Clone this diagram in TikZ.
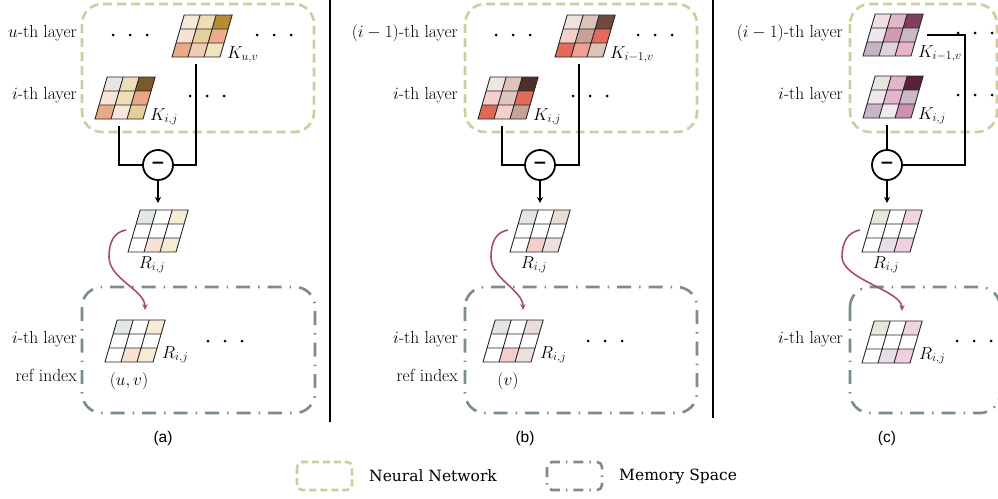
\documentclass[tikz,border=0pt]{standalone}
\usepackage{fontspec}
\newfontfamily\capfont{Liberation Sans}
\newfontfamily\legfont{DejaVu Serif}
\newfontfamily\symfont{DejaVu Sans}
\usetikzlibrary{arrows.meta,calc}
\definecolor{nncol}{HTML}{D2CB9E}
\definecolor{memcol}{HTML}{7B8C8A}
\definecolor{curvcol}{HTML}{A64D72}
\tikzset{
  nnbox/.style={draw=nncol, line width=2.6pt, dash pattern=on 9pt off 5pt, rounded corners=20pt},
  membox/.style={draw=memcol, line width=2.6pt, dash pattern=on 14pt off 8pt on 1.5pt off 8pt, rounded corners=20pt},
  gridline/.style={draw=black!85, line width=0.9pt},
  conn/.style={line width=1.8pt, draw=black},
  tipb/.style={-{Stealth[length=6pt,width=6pt]}},
  curv/.style={line width=1.6pt, draw=curvcol, -{Stealth[length=6pt,width=5.5pt]}},
  minus/.style={circle, draw=black, line width=1.8pt, minimum size=30pt, inner sep=0pt, fill=white, font=\symfont\bfseries\fontsize{17}{17}\selectfont},
  lay/.style={font=\fontsize{17.5}{20}\selectfont, inner sep=0pt, anchor=mid east},
  mlab/.style={font=\fontsize{17.5}{20}\selectfont, inner sep=0pt},
  capt/.style={font=\capfont\fontsize{15.5}{18}\selectfont, inner sep=0pt},
  legtext/.style={font=\legfont\fontsize{15.5}{18}\selectfont, inner sep=0pt, anchor=west},
}
% #1 name, #2 bottom-left corner, #3 nine colours (HTML), row by row from the top
\newcommand{\kmat}[3]{%
  \begin{scope}[shift={#2}, xslant=0.29]
    \foreach \c [count=\i from 0] in {#3} {
      \pgfmathtruncatemacro\cc{mod(\i,3)}
      \pgfmathtruncatemacro\rr{floor(\i/3)}
      \edef\tmpdef{\noexpand\definecolor{tmpc}{HTML}{\c}}\tmpdef
      \fill[tmpc] (\cc*16, -42+\rr*14) rectangle ++(16,14);
    }
    \draw[gridline] (0,0) rectangle (48,-42);
    \draw[gridline] (16,0) -- (16,-42) (32,0) -- (32,-42) (0,-14) -- (48,-14) (0,-28) -- (48,-28);
  \end{scope}
  \begin{scope}[shift={#2}]
    \coordinate (#1-s) at (24,7);
    \coordinate (#1-r) at (64,-21);
    \coordinate (#1-l) at (55,1);
    \coordinate (#1-S) at (-2,-22);
    \coordinate (#1-E) at (40,-52);
    \coordinate (#1-b) at (24,16);
    \coordinate (#1-t) at (24,-49);
    \coordinate (#1-w) at (57,-4);
  \end{scope}}
\newcommand{\threedots}[2]{\foreach \k in {0,1,2} \fill (#1+\k*17,#2) circle (1.5);}
\begin{document}
\begin{tikzpicture}[x=1pt,y=-1pt]
\useasboundingbox (0,0) rectangle (998,498);
\clip (0,0) rectangle (998,498);

% separators
\draw[line width=1.8pt] (330,0) -- (330,422);
\draw[line width=1.8pt] (713,0) -- (713,418);

% ================= panel (a)
\draw[nnbox] (82,4) rectangle (314,132);
\draw[membox] (82,287) rectangle (315,413);
\kmat{Kuva}{(172,57)}{F5EBD8,EBDDB5,B88A35,F8E2D5,E8D09A,EDAB8A,EAAA88,F1CBB3,EFE3C0}
\kmat{Kija}{(95,119)}{E8E6E4,EEDFB8,7A5A2A,F8E3D8,EEDDB5,E8A587,E9A888,F8E5DB,E4CF9A}
\kmat{Rta}{(128,252)}{E2E8E3,FFFFFF,F5ECD6,FFFFFF,FFFFFF,FFFFFF,FFFFFF,F7E1D5,F6ECD4}
\kmat{Rba}{(105,362)}{E2E8E3,FFFFFF,F5ECD6,FFFFFF,FFFFFF,FFFFFF,FFFFFF,F7E1D5,F6ECD4}
\node[minus] (ma) at (158,165) {−};
\draw[conn] (Kija-s) |- (ma);
\draw[conn] (Kuva-s) |- (ma);
\draw[conn,tipb] (ma) -- (ma |- Rta-t);
\draw[curv] (Rta-S) .. controls +(-12,2) and +(0,-15) .. ($(Rta-S)+(-17,27)$) .. controls +(0,22) and +(0,-20) .. (Rba-E);
\node[lay] (la1) at (77,35) {$u$-th layer};
\node[lay] (la2) at (77,97) {$i$-th layer};
\node[lay] (la3) at (77,341) {$i$-th layer};
\node[lay] (la4) at (77,379) {ref index};
\node[mlab, anchor=base west] (tKuva) at (Kuva-l) {$K_{u,v}$};
\node[mlab, anchor=base west] (tKija) at (Kija-l) {$K_{i,j}$};
\node[mlab, anchor=base] (tRta) at (Rta-b) {$R_{i,j}$};
\node[mlab, anchor=base west] (tRba) at (Rba-w) {$R_{i,j}$};
\node[mlab] (ida) at (129,381) {$(u,v)$};
\threedots{113}{35}
\threedots{257}{35}
\threedots{190}{96}
\threedots{208}{341}
\node[capt] (ca) at (163,438) {(a)};

% ================= panel (b)
\draw[nnbox] (465,4) rectangle (697,132);
\draw[membox] (465,287) rectangle (697,413);
\kmat{Kpvb}{(555,57)}{EEE2DE,DDC3BA,704A40,F5CFCB,C8A195,E26B5B,E26B5B,EEA095,DBC3BA}
\kmat{Kijb}{(478,119)}{EEE6E4,DCC3BC,4E3028,F5CFCB,DEC7BF,E16B5B,E06858,F5D0CB,C6A397}
\kmat{Rtb}{(510,252)}{E6E3E4,FFFFFF,EBDCD8,FFFFFF,FFFFFF,FFFFFF,FFFFFF,F3CFCB,EDE0DC}
\kmat{Rbb}{(483,362)}{E6E3E4,FFFFFF,EBDCD8,FFFFFF,FFFFFF,FFFFFF,FFFFFF,F3CFCB,EDE0DC}
\node[minus] (mb) at (540,165) {−};
\draw[conn] (Kijb-s) |- (mb);
\draw[conn] (Kpvb-s) |- (mb);
\draw[conn,tipb] (mb) -- (mb |- Rtb-t);
\draw[curv] (Rtb-S) .. controls +(-12,2) and +(0,-15) .. ($(Rtb-S)+(-17,27)$) .. controls +(0,22) and +(0,-20) .. (Rbb-E);
\node[lay] (lb1) at (458,35) {$(i-1)$-th layer};
\node[lay] (lb2) at (458,97) {$i$-th layer};
\node[lay] (lb3) at (458,341) {$i$-th layer};
\node[lay] (lb4) at (458,379) {ref index};
\node[mlab, anchor=base west] (tKpvb) at (Kpvb-l) {$K_{i-1,v}$};
\node[mlab, anchor=base west] (tKijb) at (Kijb-l) {$K_{i,j}$};
\node[mlab, anchor=base] (tRtb) at (Rtb-b) {$R_{i,j}$};
\node[mlab, anchor=base west] (tRbb) at (Rbb-w) {$R_{i,j}$};
\node[mlab] (idb) at (508,381) {$(v)$};
\threedots{496}{35}
\threedots{638}{35}
\threedots{573}{96}
\threedots{588}{341}
\node[capt] (cb) at (525,438) {(b)};

% ================= panel (c)
\draw[nnbox] (850,4) rectangle (997,132);
\draw[membox] (850,287) rectangle (1000,413);
\kmat{Kpvc}{(863,56)}{F1DFE6,E0B8C8,823F5C,EEE6EE,D39AB3,C8B8C8,C6B3C6,DDD3DD,E7B3C9}
\kmat{Kijc}{(863,118)}{E8E5DF,E3B5C8,5C2038,EEE6EE,E4B5C8,C8B8C8,C8B6C8,EEEAF0,D18FAF}
\kmat{Rtc}{(862,252)}{E6E8E0,FFFFFF,F0D5E0,FFFFFF,FFFFFF,FFFFFF,FFFFFF,E8DEE8,F0D0E0}
\kmat{Rbc}{(862,363)}{E6E8E0,FFFFFF,F0D5E0,FFFFFF,FFFFFF,FFFFFF,FFFFFF,E8DEE8,F0D0E0}
\node[minus] (mc) at (887,165) {−};
\coordinate (cturn) at (965,165);
\draw[conn] (Kijc-s) -- (mc);
\draw[conn] (Kpvc-r) -| (cturn) -- (mc);
\draw[conn,tipb] (mc) -- (mc |- Rtc-t);
\draw[curv] (Rtc-S) .. controls +(-12,2) and +(0,-15) .. ($(Rtc-S)+(-18,27)$) .. controls +(0,22) and +(0,-20) .. (Rbc-E);
\node[lay] (lc1) at (843,35) {$(i-1)$-th layer};
\node[lay] (lc2) at (843,97) {$i$-th layer};
\node[lay] (lc3) at (843,341) {$i$-th layer};
\node[mlab, anchor=base west] (tKpvc) at (Kpvc-l) {$K_{i-1,v}$};
\node[mlab, anchor=base west] (tKijc) at (Kijc-l) {$K_{i,j}$};
\node[mlab, anchor=base] (tRtc) at (Rtc-b) {$R_{i,j}$};
\node[mlab, anchor=base west] (tRbc) at (Rbc-w) {$R_{i,j}$};
\threedots{958}{33}
\threedots{958}{95}
\threedots{957}{341}
\node[capt] (cc) at (887,438) {(c)};

% ================= legend
\draw[nnbox, rounded corners=5pt, dash pattern=on 7pt off 4pt] (297,462) rectangle (352,490);
\node[legtext] (lnn) at (369,476) {Neural Network};
\draw[membox, rounded corners=5pt, dash pattern=on 10pt off 6pt on 1.5pt off 6pt] (547,462) rectangle (602,490);
\node[legtext] (lms) at (619,476) {Memory Space};
\end{tikzpicture}
\end{document}
